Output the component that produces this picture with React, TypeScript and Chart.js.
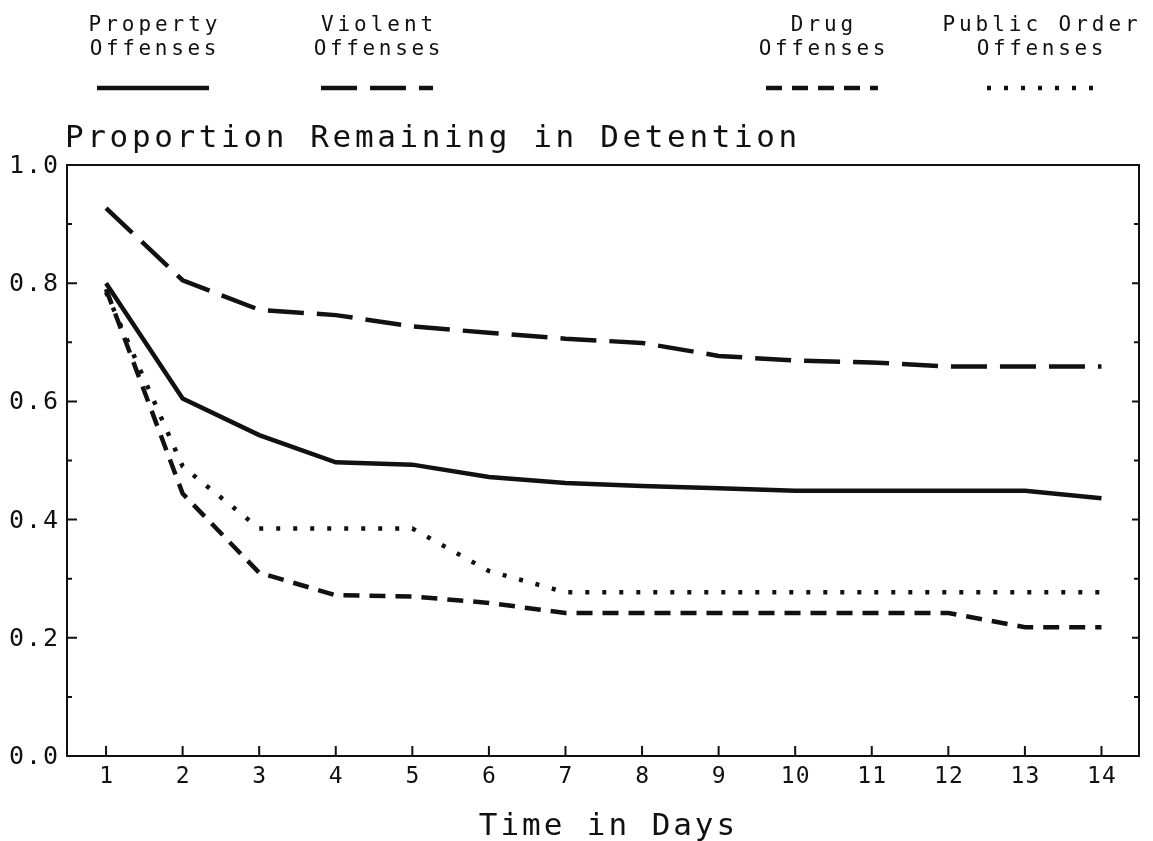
import React, { useEffect, useRef } from "react";
import { Chart, registerables } from "chart.js";

Chart.register(...registerables);

const days = [1, 2, 3, 4, 5, 6, 7, 8, 9, 10, 11, 12, 13, 14];
const propertyOffenses = [0.8, 0.605, 0.543, 0.497, 0.493, 0.472, 0.462, 0.457, 0.453, 0.449, 0.449, 0.449, 0.449, 0.436];
const violentOffenses = [0.927, 0.805, 0.755, 0.746, 0.727, 0.716, 0.706, 0.699, 0.677, 0.669, 0.666, 0.659, 0.659, 0.659];
const drugOffenses = [0.79, 0.444, 0.31, 0.272, 0.27, 0.259, 0.242, 0.242, 0.242, 0.242, 0.242, 0.242, 0.218, 0.218];
const publicOrderOffenses = [0.785, 0.49, 0.385, 0.385, 0.385, 0.313, 0.277, 0.277, 0.277, 0.277, 0.277, 0.277, 0.277, 0.277];

const seriesNames = [
  ["Property", "Offenses"],
  ["Violent", "Offenses"],
  ["Drug", "Offenses"],
  ["Public Order", "Offenses"],
];
const xTickLabels = ["1", "2", "3", "4", "5", "6", "7", "8", "9", "10", "11", "12", "13", "14"];
const yTickValues = [0, 0.2, 0.4, 0.6, 0.8, 1.0];
const yTickLabels = ["0.0", "0.2", "0.4", "0.6", "0.8", "1.0"];
const yMinorValues = [0.1, 0.3, 0.5, 0.7, 0.9];
const chartTitle = "Proportion Remaining in Detention";
const xAxisTitle = "Time in Days";

const MONO = "'DejaVu Sans Mono', monospace";

function drawSpaced(
  ctx: CanvasRenderingContext2D,
  text: string,
  x: number,
  y: number,
  fontSize: number,
  advance: number,
  align: "left" | "center" | "right"
) {
  ctx.font = `${fontSize}px ${MONO}`;
  ctx.textAlign = "left";
  ctx.textBaseline = "alphabetic";
  const charW = ctx.measureText("M").width;
  const total = advance * (text.length - 1) + charW;
  let start = x;
  if (align === "center") start = x - total / 2;
  else if (align === "right") start = x - total;
  for (let i = 0; i < text.length; i++) {
    ctx.fillText(text[i], start + i * advance, y);
  }
}

const legendCenters = [153, 377, 822, 1040];
const legendHalfWidths = [56, 56, 56, 53];

const decorPlugin = {
  id: "decor",
  afterDraw(chart: any) {
    const ctx: CanvasRenderingContext2D = chart.ctx;
    const { left, right, top, bottom } = chart.chartArea;
    const xs = chart.scales.x;
    const ys = chart.scales.y;
    ctx.save();
    ctx.fillStyle = "#111";
    ctx.strokeStyle = "#111";
    ctx.lineWidth = 2;
    ctx.setLineDash([]);
    ctx.strokeRect(left, top, right - left, bottom - top);

    ctx.beginPath();
    yTickValues.forEach((v) => {
      const py = ys.getPixelForValue(v);
      ctx.moveTo(left, py);
      ctx.lineTo(left + 10, py);
      ctx.moveTo(right, py);
      ctx.lineTo(right - 7, py);
    });
    yMinorValues.forEach((v) => {
      const py = ys.getPixelForValue(v);
      ctx.moveTo(left, py);
      ctx.lineTo(left + 5, py);
      ctx.moveTo(right, py);
      ctx.lineTo(right - 5, py);
    });
    days.forEach((d) => {
      const px = xs.getPixelForValue(d);
      ctx.moveTo(px, bottom);
      ctx.lineTo(px, bottom - 10);
    });
    ctx.stroke();

    yTickValues.forEach((v, i) => {
      const py = ys.getPixelForValue(v);
      drawSpaced(ctx, yTickLabels[i], left - 9, py + 8, 25, 17, "right");
    });
    days.forEach((d, i) => {
      const px = xs.getPixelForValue(d);
      drawSpaced(ctx, xTickLabels[i], px, bottom + 27, 23, 15, "center");
    });

    drawSpaced(ctx, chartTitle, left - 2, 147, 31, 22.3, "left");
    drawSpaced(ctx, xAxisTitle, 607, 835, 31, 21.6, "center");

    chart.data.datasets.forEach((ds: any, i: number) => {
      const cx = legendCenters[i];
      drawSpaced(ctx, seriesNames[i][0], cx, 31, 21, 16.6, "center");
      drawSpaced(ctx, seriesNames[i][1], cx, 55, 21, 16.3, "center");
      ctx.beginPath();
      ctx.lineWidth = 4.5;
      ctx.lineCap = "butt";
      ctx.setLineDash(ds.borderDash || []);
      ctx.moveTo(cx - legendHalfWidths[i], 88);
      ctx.lineTo(cx + legendHalfWidths[i], 88);
      ctx.stroke();
    });
    ctx.restore();
  },
};

export default function App() {
  const canvasRef = useRef<HTMLCanvasElement | null>(null);

  useEffect(() => {
    if (!canvasRef.current) return;
    const mk = (label: string, values: number[], dash: number[]) => ({
      label,
      data: days.map((d, i) => ({ x: d, y: values[i] })),
      borderColor: "#111",
      borderWidth: 4.5,
      borderDash: dash,
      pointRadius: 0,
      tension: 0,
      fill: false,
    });
    const chart = new Chart(canvasRef.current, {
      type: "line",
      data: {
        datasets: [
          mk("Property Offenses", propertyOffenses, []),
          mk("Violent Offenses", violentOffenses, [36, 13]),
          mk("Drug Offenses", drugOffenses, [16, 10]),
          mk("Public Order Offenses", publicOrderOffenses, [4, 13]),
        ],
      },
      options: {
        responsive: false,
        animation: false,
        layout: { padding: { left: 67, top: 165, right: 14, bottom: 85 } },
        plugins: { legend: { display: false }, title: { display: false }, tooltip: { enabled: false } },
        scales: {
          x: { type: "linear", min: 0.49, max: 14.49, display: false },
          y: { type: "linear", min: 0, max: 1, display: false },
        },
      },
      plugins: [decorPlugin],
    });
    return () => chart.destroy();
  }, []);

  return (
    <div style={{ position: "absolute", left: 0, top: 0, width: 1153, height: 841, background: "#fff" }}>
      <canvas ref={canvasRef} width={1153} height={841} />
    </div>
  );
}
